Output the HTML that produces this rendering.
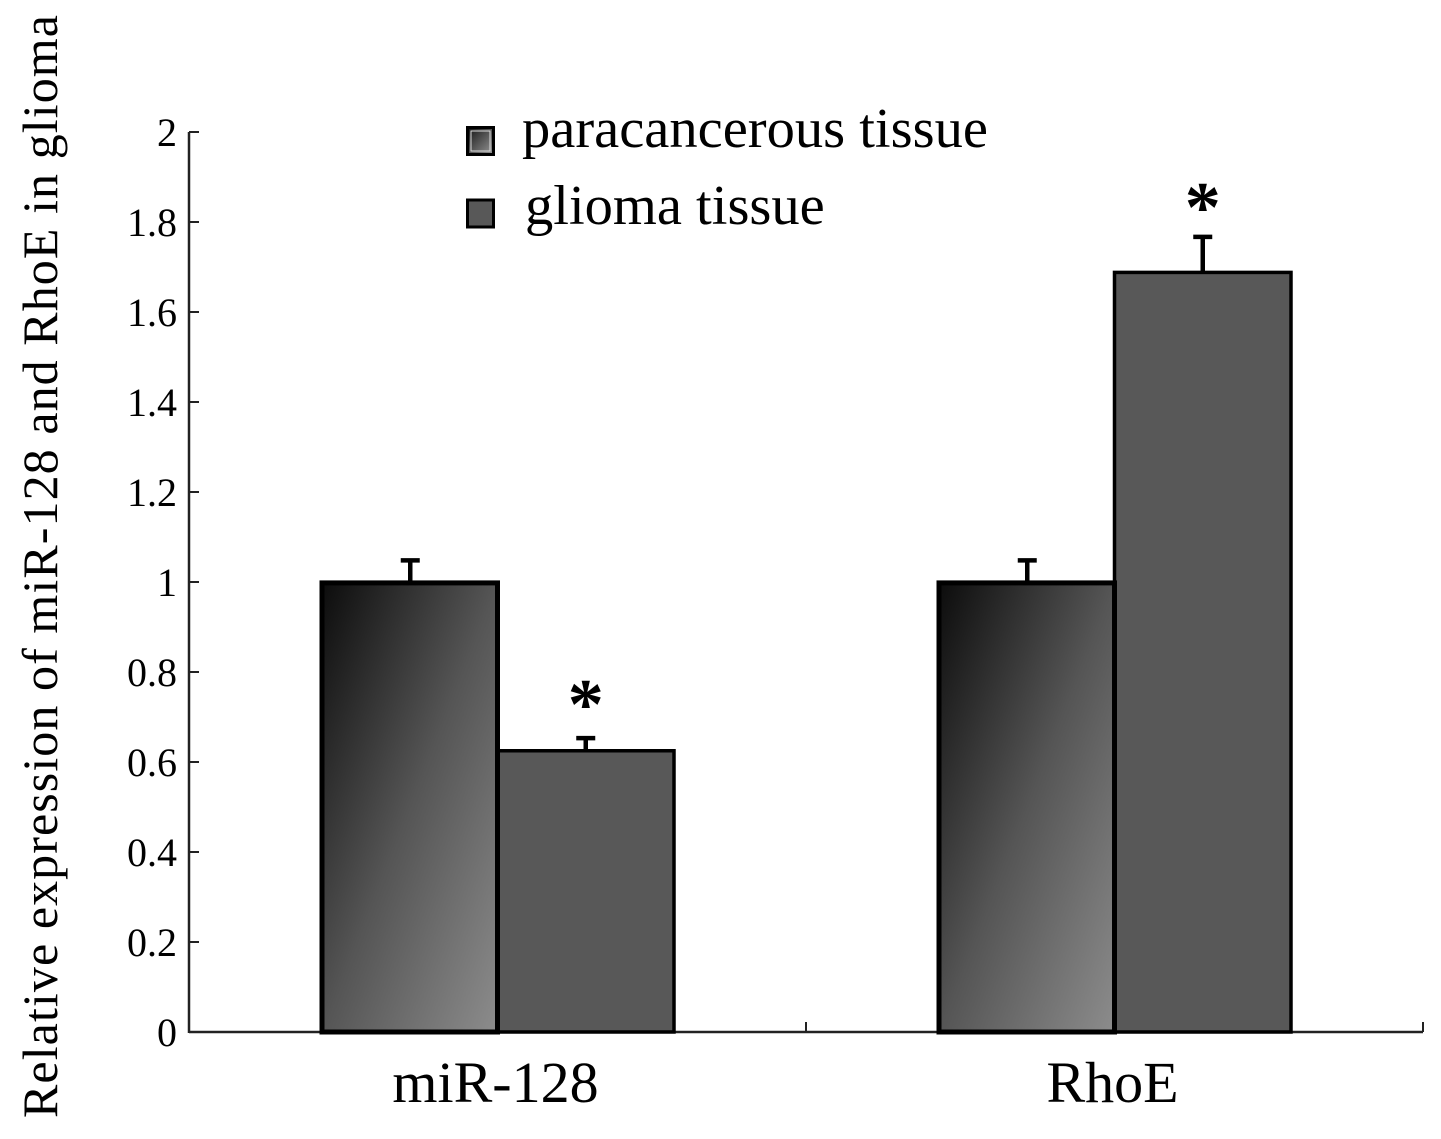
<!DOCTYPE html>
<html>
<head>
<meta charset="utf-8">
<style>
html,body{margin:0;padding:0;background:#fff;width:1441px;height:1139px;overflow:hidden}
svg{display:block}
text{font-family:"Liberation Serif",serif;fill:#000}
</style>
</head>
<body>
<svg id="chart" width="1441" height="1139" viewBox="0 0 1441 1139" xmlns="http://www.w3.org/2000/svg">
<defs>
<linearGradient id="para-gradient" x1="0" y1="0" x2="1" y2="1">
<stop offset="0" stop-color="#0c0c0c"/>
<stop offset="0.5" stop-color="#555"/>
<stop offset="1" stop-color="#8c8c8c"/>
</linearGradient>
<linearGradient id="legend-gradient" x1="0" y1="0" x2="1" y2="1">
<stop offset="0" stop-color="#111"/>
<stop offset="1" stop-color="#999"/>
</linearGradient>
</defs>
<text transform="translate(57,1118) rotate(-90)" font-size="50" textLength="1103" lengthAdjust="spacing">Relative expression of miR-128 and RhoE in glioma</text>
<g>
<rect x="467.5" y="127.5" width="26" height="27" fill="url(#legend-gradient)" stroke="#000" stroke-width="3"/>
<rect x="471" y="131" width="19" height="20" fill="none" stroke="#ddd" stroke-width="1"/>
<text x="522" y="147" font-size="56.5">paracancerous tissue</text>
<rect x="467.5" y="200" width="26" height="27" fill="#585858" stroke="#000" stroke-width="3"/>
<text x="525" y="224" font-size="56.5">glioma tissue</text>
</g>
<g id="plot"></g>
</svg>
<script>
const categories = ['miR-128', 'RhoE'];
const paracancerousValues = [0.998, 0.998];
const gliomaValues = [0.625, 1.688];
const paracancerousErrors = [0.05, 0.05];
const gliomaErrors = [0.028, 0.079];
const significanceLevels = [0.675, 1.779];
const yTickLabels = ['0', '0.2', '0.4', '0.6', '0.8', '1', '1.2', '1.4', '1.6', '1.8', '2'];

const NS = 'http://www.w3.org/2000/svg';
const plot = document.getElementById('plot');
const X0 = 189, X1 = 1423, Y0 = 1032, Y1 = 132, YMAX = 2, BAR_W = 176.5;
function yScale(v) { return Y0 - (v / YMAX) * (Y0 - Y1); }
function groupCenter(i) { return X0 + (X1 - X0) * (i + 0.5) / categories.length; }
function groupEdge(i) { return X0 + (X1 - X0) * i / categories.length; }
function make(tag, attrs, text) {
  const el = document.createElementNS(NS, tag);
  for (const k in attrs) el.setAttribute(k, attrs[k]);
  if (text !== undefined) el.textContent = text;
  return el;
}

yTickLabels.forEach(function (label) {
  const y = yScale(parseFloat(label));
  const tick = make('line', { x1: X0, x2: X0 + 10, y1: y, y2: y, stroke: '#222', 'stroke-width': 2 });
  
  
  plot.appendChild(tick);
  const t = make('text', { x: 177, y: y + 14, 'text-anchor': 'end', 'font-size': 40 }, label);
  
  
  plot.appendChild(t);
});

for (let i = 0; i <= categories.length; i++) {
  const x = groupEdge(i);
  const tick = make('line', { x1: x, x2: x, y1: Y0, y2: Y0 - 10, stroke: '#222', 'stroke-width': 2 });
  
  
  plot.appendChild(tick);
}

function drawError(x, value, err, name) {
  const top = yScale(value + err), base = yScale(value);
  const stem = make('line', { x1: x, x2: x, y1: base, y2: top, stroke: '#000', 'stroke-width': 4.5 });
  
  
  plot.appendChild(stem);
  const cap = make('line', { x1: x - 9.5, x2: x + 9.5, y1: top, y2: top, stroke: '#000', 'stroke-width': 4.5 });
  
  
  plot.appendChild(cap);
}

categories.forEach(function (cat, i) {
  const c = groupCenter(i);
  drawError(c - BAR_W / 2 + 1, paracancerousValues[i], paracancerousErrors[i], 'paracancerous');
  drawError(c + BAR_W / 2, gliomaValues[i], gliomaErrors[i], 'glioma');

  const gy = yScale(gliomaValues[i]);
  const gBar = make('rect', { x: c, y: gy, width: BAR_W, height: Y0 - gy, fill: '#585858', stroke: '#000', 'stroke-width': 3.5 });
  
  
  plot.appendChild(gBar);

  const py = yScale(paracancerousValues[i]);
  const pBar = make('rect', { x: c - BAR_W + 1, y: py, width: BAR_W - 1, height: Y0 - py, fill: 'url(#para-gradient)', stroke: '#000', 'stroke-width': 5 });
  
  
  plot.appendChild(pBar);

  const star = make('text', { x: c + BAR_W / 2, y: yScale(significanceLevels[i]), 'text-anchor': 'middle', 'font-size': 72, 'font-weight': 'bold' }, '*');
  
  
  plot.appendChild(star);

  const label = make('text', { x: c - 2, y: 1102, 'text-anchor': 'middle', 'font-size': 58 }, cat);
  
  
  plot.appendChild(label);
});

const yAxis = make('line', { x1: X0, x2: X0, y1: Y1, y2: Y0 + 1, stroke: '#222', 'stroke-width': 2.5 });


plot.insertBefore(yAxis, plot.firstChild);
const xAxis = make('line', { x1: X0, x2: X1, y1: Y0, y2: Y0, stroke: '#222', 'stroke-width': 2.5 });


plot.insertBefore(xAxis, plot.firstChild);
</script>
</body>
</html>
